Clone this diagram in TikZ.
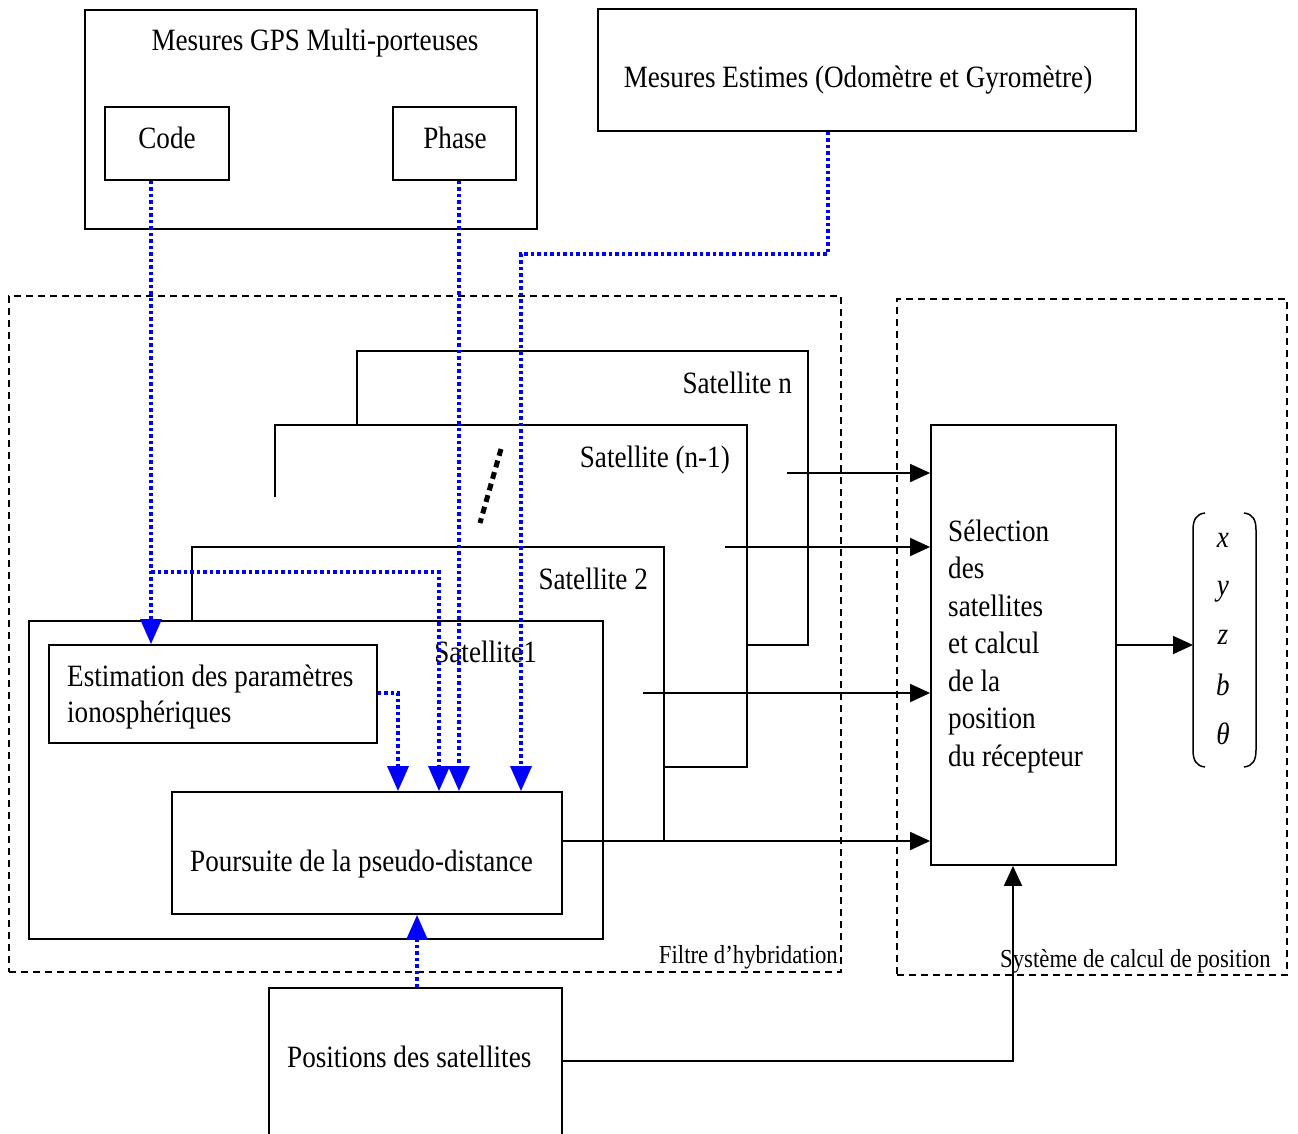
\documentclass[tikz,border=0pt]{standalone}
\usepackage{fontspec}
\setmainfont{Liberation Serif}[FakeStretch=0.875]
\usetikzlibrary{arrows.meta,fit}
\begin{document}
\begin{tikzpicture}[x=1pt,y=-1pt,
  box/.style={draw, line width=1.8pt, inner sep=0pt},
  dbox/.style={draw, line width=1.8pt, inner sep=0pt, dash pattern=on 7pt off 5pt},
  ln/.style={draw, line width=1.8pt},
  txt/.style={font=\fontsize{31}{37.5}\selectfont, inner sep=0pt},
  small/.style={font=\fontsize{26}{30}\selectfont, inner sep=0pt},
  bl/.style={draw=blue, line width=3.5pt, dash pattern=on 3.5pt off 3pt},
  barrow/.style={-{Triangle[length=25pt,width=21pt]}},
  karrow/.style={-{Triangle[length=20pt,width=18pt]}}]
\fill[white] (0,0) rectangle (1298,1133);
\useasboundingbox (0,0) rectangle (1298,1133);

% top boxes
\node[box, fit={(85,10) (537,229)}] (gps) {};
\node[txt, anchor=base] (gpst) at (315,50) {Mesures GPS Multi-porteuses};
\node[box, fit={(105,107) (229,180)}] (code) {};
\node[txt, anchor=base] (codet) at (167,148) {Code};
\node[box, fit={(393,107) (516,180)}] (phase) {};
\node[txt, anchor=base] (phaset) at (455,148) {Phase};
\node[box, fit={(598,9) (1136,131)}] (est) {};
\node[txt, anchor=base] (estt) at (858,87) {Mesures Estimes (Odomètre et Gyromètre)};

% dashed frames
\node[dbox, fit={(9,296) (841,972)}] (filtre) {};
\node[small, anchor=base east] (filtret) at (838,963) {Filtre d’hybridation};
\node[dbox, fit={(897,299) (1287,975)}] (sys) {};

% satellite stacks
\draw[ln] (357,425) |- (808,351) |- (747,645);
\draw[ln] (275,497) |- (747,425) |- (664,767);
\draw[ln] (192,621) |- (664,547) -- (664,841);
\node[txt, anchor=base east] (satn) at (792,393) {Satellite n};
\node[txt, anchor=base east] (satn1) at (730,467) {Satellite (n-1)};
\node[txt, anchor=base east] (sat2) at (648,589) {Satellite 2};
\draw[line width=5pt, dash pattern=on 7pt off 5pt] (501,449) -- (480,523);

\node[box, fit={(29,621) (603,939)}] (sat1) {};
\node[txt, anchor=base east] (sat1t) at (537,662) {Satellite1};

\node[box, fit={(49,645) (377,743)}] (estim) {};
\node[txt, anchor=base west] (estim1) at (67,686) {Estimation des paramètres};
\node[txt, anchor=base west] (estim2) at (67,722) {ionosphériques};

\node[box, fit={(172,792) (562,914)}] (pours) {};
\node[txt, anchor=base west] (pourst) at (190,871) {Poursuite de la pseudo-distance};

% selection
\node[box, fit={(931,425) (1116,865)}] (sel) {};
\foreach \t [count=\i from 0] in {Sélection,des,satellites,et calcul,de la,position,du récepteur}
  \node[txt, anchor=base west] (sel\i) at (948,541+37.5*\i) {\t};

\node[small, anchor=base west] (syst) at (1000,967) {Système de calcul de position};

% positions
\node[box, fit={(269,988) (562,1150)}] (pos) {};
\node[txt, anchor=base west] (post) at (287,1067) {Positions des satellites};

% black arrows into selection
\coordinate (a1) at (787,473);
\coordinate (a2) at (725,547);
\coordinate (a3) at (643,693);
\coordinate (a4) at (562,841);
\draw[ln, karrow] (a1) -- (a1 -| sel.west);
\draw[ln, karrow] (a2) -- (a2 -| sel.west);
\draw[ln, karrow] (a3) -- (a3 -| sel.west);
\draw[ln, karrow] (a4) -- (a4 -| sel.west);

% output vector
\coordinate (vec) at (1193,645);
\draw[ln, karrow] (vec -| sel.east) -- (vec);
\draw[line width=1.5pt] (1205,513) .. controls (1196,514) and (1193,520) .. (1193,530) -- (1193,750) .. controls (1193,760) and (1196,766) .. (1205,767);
\draw[line width=1.5pt] (1244,513) .. controls (1253,514) and (1256,520) .. (1256,530) -- (1256,750) .. controls (1256,760) and (1253,766) .. (1244,767);
\node[txt, anchor=base] (vx) at (1223,547) {\textit{x}};
\node[txt, anchor=base] (vy) at (1223,595) {\textit{y}};
\node[txt, anchor=base] (vz) at (1223,644) {\textit{z}};
\node[txt, anchor=base] (vb) at (1223,695) {\textit{b}};
\node[txt, anchor=base] (vt) at (1223,744) {\textit{θ}};

% positions to selection
\coordinate (pc) at (1013,1061);
\draw[ln, karrow] (pos.east |- pc) -- (pc) -- (pc |- sel.south);

% blue dotted connectors
\draw[bl, barrow] (151,0 |- code.south) -- (151,0 |- estim.north);
\draw[bl, barrow] (151,572) -| (439,0 |- pours.north);
\draw[bl, barrow] (459,0 |- phase.south) -- (459,0 |- pours.north);
\draw[bl, barrow] (828,0 |- est.south) |- (521,254) -- (521,0 |- pours.north);
\draw[bl, barrow] (estim.east |- 0,693) -| (398,0 |- pours.north);
\draw[bl, barrow] (417,0 |- pos.north) -- (417,0 |- pours.south);
\end{tikzpicture}
\end{document}
